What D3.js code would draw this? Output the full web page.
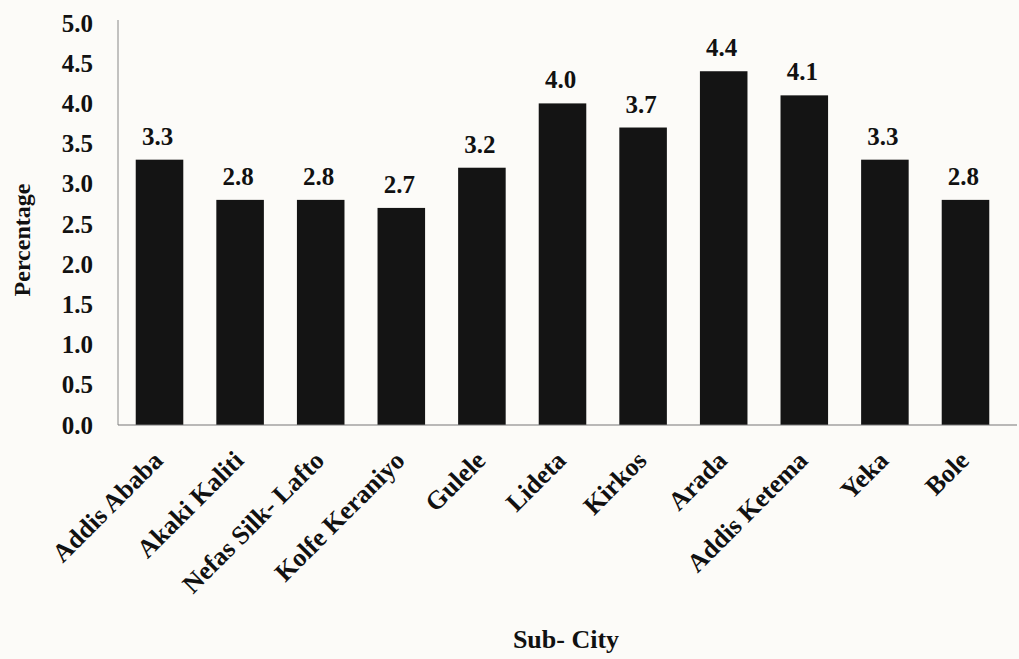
<!DOCTYPE html>
<html>
<head>
<meta charset="utf-8">
<script src="https://cdn.jsdelivr.net/npm/d3@7"></script>
<style>
  body { margin: 0; background: #fcfbf8; }
  text { font-family: "Liberation Serif", "Times New Roman", serif; font-weight: bold; fill: #111; }
</style>
</head>
<body>
<div id="chart"></div>
<script>
// Sub-city percentages
const subCities = ["Addis Ababa", "Akaki Kaliti", "Nefas Silk- Lafto", "Kolfe Keraniyo", "Gulele",
  "Lideta", "Kirkos", "Arada", "Addis Ketema", "Yeka", "Bole"];
const percentages = [3.3, 2.8, 2.8, 2.7, 3.2, 4.0, 3.7, 4.4, 4.1, 3.3, 2.8];
const yTicks = [0, 0.5, 1, 1.5, 2, 2.5, 3, 3.5, 4, 4.5, 5];

const W = 1019, H = 659;
const margin = {top: 23, right: 8, bottom: 234, left: 118};
const width = W - margin.left - margin.right;
const height = H - margin.top - margin.bottom;

const svg = d3.select("#chart").append("svg")
  .attr("width", W)
  .attr("height", H)
  .style("background-color", "#fcfbf8");

const g = svg.append("g")
  .attr("transform", `translate(${margin.left},${margin.top})`);

// scales
const x = d3.scaleBand().domain(subCities).range([0, width - 4])
  .paddingInner(0.41).paddingOuter(0.22);
const y = d3.scaleLinear().domain([0, 5]).range([height, 0]);

// bars
g.selectAll("rect.bar")
  .data(percentages)
  .enter()
  .append("rect")
  .attr("class", "bar")
  .attr("x", (d, i) => x(subCities[i]))
  .attr("y", d => y(d))
  .attr("width", x.bandwidth())
  .attr("height", d => y(0) - y(d))
  .attr("fill", "#141414");

// value labels on top of each bar
g.selectAll("text.val")
  .data(percentages)
  .enter()
  .append("text")
  .attr("class", "val")
  .attr("x", (d, i) => x(subCities[i]) + x.bandwidth() / 2 - 2)
  .attr("y", d => y(d) - 15)
  .attr("text-anchor", "middle")
  .style("font-size", "25px")
  .text(d => d3.format(".1f")(d));

// y axis, no tick marks
const yAxis = g.append("g")
  .call(d3.axisLeft(y).tickValues(yTicks).tickSize(0).tickPadding(25).tickFormat(d3.format(".1f")));
yAxis.select(".domain").attr("stroke", "#888").attr("stroke-width", 1).attr("d", `M0,-3V${height}`);
yAxis.selectAll("text")
  .style("font-size", "25px")
  .style("font-family", "Liberation Serif")
  .style("font-weight", "bold")
  .attr("fill", "#111");

// x axis baseline + rotated category labels
const xAxis = g.append("g")
  .attr("transform", `translate(0,${height})`)
  .call(d3.axisBottom(x).tickSize(0).tickPadding(0));
xAxis.select(".domain").attr("stroke", "#777").attr("stroke-width", 1.2).attr("d", `M0,0H${width + 6}`);
xAxis.selectAll("text")
  .style("font-size", "26px")
  .style("font-family", "Liberation Serif")
  .style("font-weight", "bold")
  .attr("fill", "#111")
  .attr("text-anchor", "end")
  .attr("dy", 0)
  .attr("transform", "translate(5,37) rotate(-45)");

// axis titles
svg.append("text")
  .attr("transform", `translate(30,240) rotate(-90)`)
  .attr("text-anchor", "middle")
  .style("font-size", "24px")
  .text("Percentage");

svg.append("text")
  .attr("x", 566)
  .attr("y", 648)
  .attr("text-anchor", "middle")
  .style("font-size", "26px")
  .text("Sub- City");
</script>
</body>
</html>
